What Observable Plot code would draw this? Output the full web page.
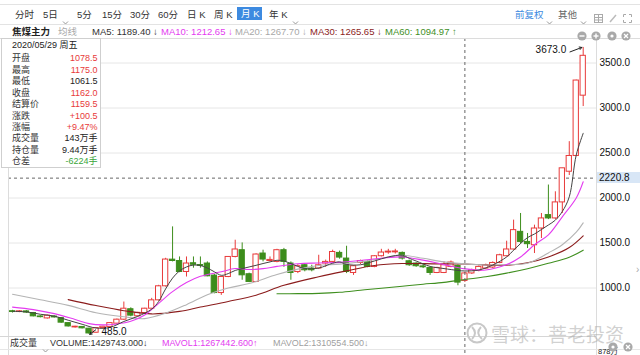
<!DOCTYPE html>
<html><head><meta charset="utf-8">
<script src="https://cdn.jsdelivr.net/npm/d3@7"></script>
<script src="https://cdn.jsdelivr.net/npm/@observablehq/plot@0.6"></script>
<style>
html,body{margin:0;padding:0;background:#fff;}
#wrap{position:relative;width:640px;height:355px;overflow:hidden;background:#fff;font-family:"Liberation Sans",Arial,"Noto Sans CJK SC",sans-serif;color:#333;}
#chart{position:absolute;left:0;top:0;}
.t{position:absolute;white-space:nowrap;line-height:1;transform:translateY(-50%);}
.hl{position:absolute;background:#ddd;}
.vl{position:absolute;background:#ddd;}
</style></head>
<body><div id="wrap"><div id="chart"></div></div>
<script>
// ---- data (monthly candles, 焦煤主力) ----
const open  = [742,733,740,722,684,662,683,666,610,562,567,548,503,555,566,604,648,764,686,722,770,863,1019,1315,1300,1178,1275,1255,1272,1138,944,1122,1345,1420,1153,1067,1383,1300,1290,1420,1272,1178,1253,1216,1216,1272,1290,1390,1327,1167,1278,1290,1234,1353,1394,1396,1390,1297,1272,1240,1223,1167,1167,1234,1245,1078.5,1162,1190,1216,1227,1278,1353,1428,1624,1512,1475,1661,1810,1773,1951,2292,2467,3137];
const high  = [752,750,748,728,692,700,690,672,615,575,572,552,560,575,615,655,844,780,730,775,885,1030,1330,1679,1345,1345,1345,1345,1290,1150,1130,1350,1531,1501,1165,1380,1420,1345,1430,1440,1290,1260,1262,1253,1364,1310,1420,1410,1464,1250,1310,1300,1360,1430,1430,1430,1400,1310,1280,1272,1230,1230,1290,1300,1255,1175,1210,1245,1265,1290,1375,1520,1754,1828,1606,1698,1828,2144,2069,2330,2626,3310,3673];
const low   = [722,726,718,680,668,655,666,608,566,555,545,485,498,548,560,598,640,680,680,715,765,855,1010,1290,1170,1122,1220,1220,1125,935,918,1115,1335,1086,1060,1060,1290,1290,1280,1230,1086,1160,1180,1180,1205,1230,1280,1320,1160,1140,1260,1225,1225,1345,1375,1378,1310,1240,1230,1216,1140,1160,1160,1225,1025,1061.5,1150,1180,1205,1215,1270,1345,1420,1487,1439,1383,1550,1760,1760,1828,2250,2460,3016];
const close = [733,741,727,685,676,692,673,615,573,570,552,495,555,570,610,648,770,693,724,770,863,1019,1316,1300,1178,1272,1258,1246,1130,944,1122,1345,1428,1141,1067,1372,1316,1312,1420,1290,1167,1242,1197,1197,1253,1290,1400,1338,1178,1242,1300,1234,1353,1394,1404,1406,1327,1253,1242,1230,1167,1223,1253,1283,1060,1162,1197,1234,1253,1278,1364,1428,1643,1512,1487,1661,1773,1773,1951,2330,2467,3305,3580];

// moving averages: [candle index, value]
const ma5  = [[0,740],[2,735],[4,708],[6,688],[8,642],[10,597],[12,555],[14,562],[16,628],[18,685],[20,765],[21,850],[22,990],[23,1110],[24,1190],[25,1234],[26,1255],[27,1250],[28,1222],[29,1180],[30,1141],[31,1160],[32,1195],[33,1215],[34,1234],[35,1252],[36,1272],[37,1290],[38,1308],[39,1300],[40,1270],[41,1240],[42,1216],[44,1222],[46,1275],[47,1290],[48,1262],[50,1258],[52,1300],[54,1345],[56,1364],[57,1330],[58,1300],[60,1240],[62,1216],[64,1195],[65,1189],[67,1200],[69,1255],[71,1345],[72,1420],[73,1494],[74,1560],[75,1600],[76,1650],[77,1700],[78,1754],[79,1850],[80,2013],[81,2478],[82,2719]];
const ma10 = [[0,788],[3,760],[6,715],[9,650],[11,604],[13,590],[15,600],[17,630],[19,700],[21,830],[23,960],[25,1060],[27,1130],[30,1180],[32,1216],[34,1205],[36,1215],[38,1240],[41,1270],[44,1278],[47,1285],[50,1305],[53,1330],[56,1345],[59,1310],[62,1260],[65,1213],[68,1200],[71,1260],[73,1345],[75,1480],[77,1590],[79,1791],[81,2000],[82,2180]];
const ma20 = [[0,930],[4,870],[8,807],[12,725],[16,680],[19,660],[22,720],[25,815],[28,925],[31,1000],[34,1049],[38,1150],[41,1210],[44,1250],[47,1265],[51,1300],[54,1345],[56,1364],[59,1330],[62,1290],[65,1268],[68,1255],[71,1260],[74,1275],[77,1390],[79,1480],[81,1620],[82,1724]];
const ma30 = [[8,871],[12,805],[16,748],[20,712],[24,740],[27,788],[31,850],[35,920],[39,1030],[44,1125],[48,1190],[52,1250],[56,1272],[61,1268],[65,1266],[68,1255],[71,1253],[74,1280],[77,1345],[80,1450],[82,1580]];
const ma60 = [[38,936],[41,937],[44,940],[47,952],[50,975],[53,998],[56,1020],[59,1042],[62,1063],[65,1095],[68,1125],[71,1165],[74,1214],[77,1275],[80,1342],[82,1420]];

const yTicks = [1000,1500,2000,2500,3000,3500];
const crossIndex = 65;
const crossValue = 2220.8;

const RED = "#e83a3a", GREEN = "#3d8d1c";
const candles = open.map((o,i)=>({i, open:o, high:high[i], low:low[i], close:close[i]}));
const up = d => d.close >= d.open;
const maxC = candles.reduce((a,b)=> b.high>a.high?b:a);
const minC = candles.reduce((a,b)=> b.low<a.low?b:a);
const px = d=>d[0], py = d=>d[1];

const chart = Plot.plot({
  width:640, height:355, marginLeft:8, marginRight:44, marginTop:38, marginBottom:0,
  style:{background:"transparent", fontFamily:"Liberation Sans, Arial, sans-serif", fontSize:"10px", color:"#111"},
  x:{domain:[0,82], range:[12,582.7], axis:null},
  y:{domain:[1000,3500], range:[287.5,62.5], axis:null},
  marks:[
    Plot.gridY(yTicks, {stroke:"#e6e6e6", strokeOpacity:1}),
    Plot.ruleY([crossValue], {stroke:"#666", strokeDasharray:"3,3"}),
    Plot.ruleX(candles, {x:"i", y1:"low", y2:"high", stroke:d=>up(d)?RED:GREEN}),
    Plot.rect(candles, {x1:d=>d.i-0.38, x2:d=>d.i+0.38, y1:"open", y2:"close",
      fill:d=>up(d)?"#fff":GREEN, stroke:d=>up(d)?RED:GREEN}),
    Plot.line(ma60, {x:px, y:py, stroke:"#3f8f1f", strokeWidth:1.1, curve:"catmull-rom"}),
    Plot.line(ma30, {x:px, y:py, stroke:"#8b1c1c", strokeWidth:1.1, curve:"catmull-rom"}),
    Plot.line(ma20, {x:px, y:py, stroke:"#b4b4b4", strokeWidth:1.1, curve:"catmull-rom"}),
    Plot.line(ma10, {x:px, y:py, stroke:"#e43cf0", strokeWidth:1.1, curve:"catmull-rom"}),
    Plot.line(ma5,  {x:px, y:py, stroke:"#444", strokeWidth:1, curve:"catmull-rom"}),
    Plot.ruleX([crossIndex], {stroke:"#666", strokeDasharray:"3,3"}),
    Plot.axisY(yTicks, {anchor:"right", tickSize:0, tickPadding:3, tickFormat:d=>d.toFixed(1), fontSize:10}),
    Plot.text([maxC], {x:"i", y:"high", text:d=>d.high.toFixed(1), dx:-17, dy:2, textAnchor:"end", fontSize:10, fill:"#111"}),
    Plot.arrow([maxC], {x1:d=>d.i-1.9, y1:d=>d.high-50, x2:d=>d.i-0.2, y2:d=>d.high, stroke:"#222", headLength:4, strokeWidth:1}),
    Plot.text([minC], {x:"i", y:"low", text:d=>d.low.toFixed(1), dx:12.5, dy:-3, textAnchor:"start", fontSize:10, fill:"#111"}),
    Plot.arrow([minC], {x1:d=>d.i+0.95, y1:d=>d.low+50, x2:d=>d.i+0.1, y2:d=>d.low, stroke:"#222", headLength:4, strokeWidth:1})
  ]
});
document.getElementById("chart").appendChild(chart);
const yScale = chart.scale("y");

const wrap = document.getElementById("wrap");
function put(text, x, y, css){ const s=document.createElement("div"); s.className="t"; s.textContent=text; s.style.left=x+"px"; s.style.top=y+"px"; if(css) s.style.cssText+=css; wrap.appendChild(s); return s; }
function line(cls, x, y, w, h, color){ const d=document.createElement("div"); d.className=cls; d.style.cssText+=`left:${x}px;top:${y}px;width:${w}px;height:${h}px;`+(color?`background:${color};`:""); wrap.appendChild(d); }
function svg(html, x, y, w, h){ const d=document.createElement("div"); d.style.cssText=`position:absolute;left:${x}px;top:${y}px;width:${w}px;height:${h}px;`; d.innerHTML=`<svg width="${w}" height="${h}" viewBox="0 0 ${w} ${h}">${html}</svg>`; wrap.appendChild(d); }
const chev = (x,y,c="#999") => svg(`<polyline points="1,1.5 3.5,4 6,1.5" fill="none" stroke="${c}" stroke-width="1"/>`, x, y-3, 7, 6);

// frame lines
line("hl",0,4,640,1,"#e3e3e3");
line("hl",0,24,640,1,"#e3e3e3");
line("hl",0,37.5,640,1,"#dcdcdc");
line("vl",8,38,1,317,"#dcdcdc");
line("vl",596,38,1,317,"#dcdcdc");
line("hl",0,336,596,1,"#d6d6d6");
line("hl",0,349,640,1,"#e6e6e6");

// toolbar
const tb = [["分时",15],["5日",43],["5分",77],["15分",102],["30分",130],["60分",158],["日 K",187],["周 K",214],["年 K",269]];
tb.forEach(([t,x])=>put(t,x,14.5,"font-size:9.5px;color:#333;"));
line("hl",237,7,25,13,"#3d8ae0");
put("月 K",241,14,"font-size:9.5px;color:#fff;");
chev(62,14.5); chev(292,14.5);
put("前复权",515,14.5,"font-size:9.5px;color:#3d8ae0;");
chev(546,14.5);
put("其他",558,14.5,"font-size:9.5px;color:#666;");
chev(580,14.5);
svg(`<rect x="0.5" y="0.5" width="8" height="8" fill="none" stroke="#aaa"/><line x1="0.5" y1="3.5" x2="8.5" y2="3.5" stroke="#aaa"/><line x1="0.5" y1="6" x2="8.5" y2="6" stroke="#aaa"/><line x1="4.5" y1="0.5" x2="4.5" y2="8.5" stroke="#aaa"/>`,594,10,10,10);
svg(`<line x1="1" y1="8" x2="7" y2="1" stroke="#bbb" stroke-width="1.5"/>`,609,10,9,10);
svg(`<path d="M0.5,3V0.5H3M6,0.5H8.5V3M8.5,6V8.5H6M3,8.5H0.5V6" fill="none" stroke="#aaa"/>`,623,10,10,10);

// legend row
put("焦煤主力",12,31.5,"font-size:9.5px;font-weight:bold;color:#222;");
put("均线",58,31.5,"font-size:9.5px;color:#aaa;");
chev(80,31.5);
put("MA5: 1189.40 ↓",92,31.5,"font-size:9.5px;color:#333;");
put("MA10: 1212.65 ↓",161,31.5,"font-size:9.5px;color:#e43cf0;");
put("MA20: 1267.70 ↓",235,31.5,"font-size:9.5px;color:#a8a8a8;");
put("MA30: 1265.65 ↓",310,31.5,"font-size:9.5px;color:#8b1c1c;");
put("MA60: 1094.97 ↑",385,31.5,"font-size:9.5px;color:#3f8f1f;");
const icon = (x,y,inner)=>svg(`<circle cx="5" cy="5" r="4.6" fill="#a9a9a9"/>${inner}`,x-5,y-5,10,10);
icon(582,31.5,`<line x1="2.5" y1="5" x2="7.5" y2="5" stroke="#fff" stroke-width="1.4"/>`);
icon(596,31.5,`<line x1="2.5" y1="5" x2="7.5" y2="5" stroke="#fff" stroke-width="1.4"/><line x1="5" y1="2.5" x2="5" y2="7.5" stroke="#fff" stroke-width="1.4"/>`);
icon(612,31.5,`<circle cx="5" cy="5" r="1.6" fill="#fff"/>`);
icon(626,31.5,`<line x1="3" y1="3" x2="7" y2="7" stroke="#fff" stroke-width="1.3"/><line x1="7" y1="3" x2="3" y2="7" stroke="#fff" stroke-width="1.3"/>`);

// info box
const box=document.createElement("div");
box.style.cssText="position:absolute;left:1px;top:38px;width:98px;height:128px;background:#fff;border:1px solid #cfcfcf;";
wrap.appendChild(box);
put("2020/05/29 周五",12,45,"font-size:9px;color:#222;");
const info = [["开盘","1078.5",RED],["最高","1175.0",RED],["最低","1061.5","#222"],["收盘","1162.0",RED],["结算价","1159.5",RED],["涨跌","+100.5",RED],["涨幅","+9.47%",RED],["成交量","143万手","#222"],["持仓量","9.44万手","#222"],["仓差","-6224手","#3aa53a"]];
info.forEach(([k,v,c],j)=>{
  const y = 58.3 + j*11.45;
  put(k,12,y,"font-size:9px;color:#333;");
  put(v,0,y,`font-size:9px;color:${c};left:auto;right:${640-97.5}px;`);
});

// crosshair value label on the axis
const cy = yScale.apply(crossValue);
line("hl",597,cy-5.5,43,11,"#d8e6f6");
put(crossValue.toFixed(1),599,cy,"font-size:10px;color:#111;");
put("›",636,270,"font-size:10px;color:#aaa;");

// volume header
put("成交量",10,342.5,"font-size:9px;color:#333;");
chev(42,342.5);
put("VOLUME:1429743.000↓",50,342.5,"font-size:9px;color:#333;");
put("MAVOL1:1267442.600↑",162,342.5,"font-size:9px;color:#e43cf0;");
put("MAVOL2:1310554.500↓",273,342.5,"font-size:9px;color:#a0a0a0;");
put("878万",598,351.5,"font-size:7.5px;color:#222;");

// watermark
svg(`<circle cx="11" cy="11" r="9.5" fill="none" stroke="#c8c8c8" stroke-width="2"/><path d="M6,5 Q12,11 6,17 M15,5 Q9,11 16,17" fill="none" stroke="#c8c8c8" stroke-width="2"/>`,466,322,22,22);
put("雪球：菩老投资",491,333,"font-size:19px;color:rgba(170,170,170,0.55);font-family:'Noto Sans CJK SC';");
icon(613,342.5,`<circle cx="5" cy="5" r="1.6" fill="#fff"/>`);
icon(628,342.5,`<line x1="3" y1="3" x2="7" y2="7" stroke="#fff" stroke-width="1.3"/><line x1="7" y1="3" x2="3" y2="7" stroke="#fff" stroke-width="1.3"/>`);
</script></body></html>
